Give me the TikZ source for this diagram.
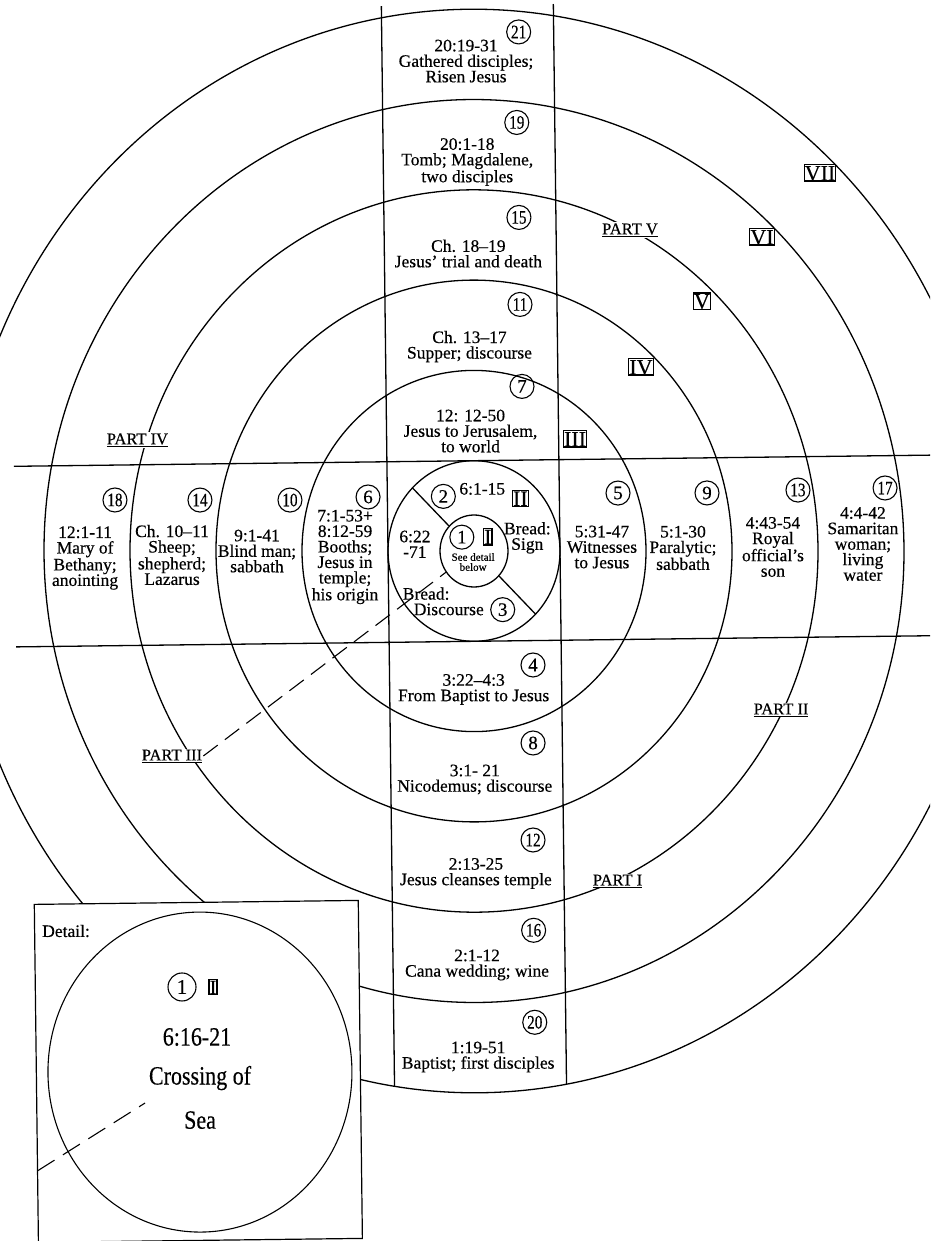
\documentclass[tikz,border=0pt]{standalone}
\usepackage{fontspec}
\setmainfont{Liberation Serif}[FakeBold=0.4]
\usetikzlibrary{shapes.geometric}
\newcommand{\tw}[1]{\scalebox{0.8}[1]{#1}}
\begin{document}
\begin{tikzpicture}[x=1pt,y=-1pt,
  ring/.style={line width=1.3pt},
  num/.style={circle,draw,line width=1.1pt,minimum size=24pt,inner sep=0pt,font=\fontsize{19}{19}\selectfont},
  rom/.style={draw,line width=1.2pt,inner sep=0.6pt,font=\fontsize{22}{22}\selectfont,text height=15pt,text depth=0pt},
  txt/.style={align=center,inner sep=0pt,font=\fontsize{17.5}{15.5}\selectfont},
  partlbl/.style={fill=white,inner sep=1pt,font=\fontsize{16.5}{16.5}\selectfont},
  tinytxt/.style={align=center,inner sep=0pt,font=\fontsize{11}{10}\selectfont},
  bigtxt/.style={inner sep=0pt,font=\fontsize{22}{22}\selectfont},
  dashline/.style={dash pattern=on 18pt off 9pt,line width=1.1pt},
]
\useasboundingbox (0,0) rectangle (930,1241);
\fill[white] (0,0) rectangle (930,1241);
\clip (0,0) rectangle (930,1241);
\begin{scope}[shift={(474,551)},rotate=0.7]
  % rings
  \foreach \k in {1,...,6}
    \draw[ring] (0,0) ellipse [x radius={86*\k}, y radius={90.3*\k}];
  \node[ellipse,draw,ring,minimum width=68pt,minimum height=72pt,inner sep=0pt] (core) at (0,0) {};
  % cross lines
  \draw[ring] (-86,-546) -- (-86,534.4);
  \draw[ring] (86,-546) -- (86,534.4);
  \draw[ring] (-459,-90.3) -- (480,-90.3);
  \draw[ring] (-459,90.3) -- (480,90.3);
  % diagonals in ring B
  \coordinate (bnw) at (-60.8,-63.9);
  \coordinate (bse) at (60.8,63.9);
  \draw[ring] (core.135) -- (bnw);
  \draw[ring] (core.-45) -- (bse);

  % column top
  \node[num] (n21) at (51,-518.5) {\tw{21}};
  \node[txt] (t21) at (-2,-490) {20:19-31\\Gathered disciples;\\Risen Jesus};
  \node[num] (n19) at (48,-428) {\tw{19}};
  \node[txt] (t19) at (-2,-389) {20:1-18\\Tomb; Magdalene,\\two disciples};
  \node[num] (n15) at (49,-333) {\tw{15}};
  \node[txt] (t15) at (-2,-297.5) {Ch. 18–19\\Jesus’ trial and death};
  \node[num] (n11) at (49,-246) {\tw{11}};
  \node[txt] (t11) at (-2,-204.5) {Ch. 13–17\\Supper; discourse};
  \node[num] (n7) at (50,-164) {7};
  \node[txt] (t7) at (-2,-120) {12: 12-50\\Jesus to Jerusalem,\\to world};
  % column bottom
  \node[num] (n4) at (57.6,114.7) {4};
  \node[txt] (t4) at (-2,138.5) {3:22–4:3\\From Baptist to Jesus};
  \node[num] (n8) at (56.7,192.7) {8};
  \node[txt] (t8) at (-2,228.5) {3:1- 21\\Nicodemus; discourse};
  \node[num] (n12) at (55.5,289.7) {\tw{12}};
  \node[txt] (t12) at (-2,322.5) {2:13-25\\Jesus cleanses temple};
  \node[num] (n16) at (55,380) {\tw{16}};
  \node[txt] (t16) at (-2,414) {2:1-12\\Cana wedding; wine};
  \node[num] (n20) at (55,472) {\tw{20}};
  \node[txt] (t20) at (-2,506) {1:19-51\\Baptist; first disciples};
  % left band
  \node[num] (n18) at (-358.4,-55.4) {\tw{18}};
  \node[txt] (t18) at (-389,2.3) {12:1-11\\Mary of\\Bethany;\\anointing};
  \node[num] (n14) at (-273.4,-54.3) {\tw{14}};
  \node[txt] (t14) at (-302,0.3) {Ch. 10–11\\Sheep;\\shepherd;\\Lazarus};
  \node[num] (n10) at (-183.4,-53.2) {\tw{10}};
  \node[txt] (t10) at (-217,-2.6) {9:1-41\\Blind man;\\sabbath};
  \node[num] (n6) at (-105.3,-55.3) {6};
  \node[txt] (t6) at (-129,4.4) {7:1-53+\\8:12-59\\Booths;\\Jesus in\\temple;\\his origin};
  % right band
  \node[num] (n5) at (144.7,-56.2) {5};
  \node[txt] (t5) at (128,-2.4) {5:31-47\\Witnesses\\to Jesus};
  \node[num] (n9) at (233.7,-55.2) {9};
  \node[txt] (t9) at (209,-0.5) {5:1-30\\Paralytic;\\sabbath};
  \node[num] (n13) at (324.7,-57) {\tw{13}};
  \node[txt] (t13) at (299,-0.4) {4:43-54\\Royal\\official’s\\son};
  \node[num] (n17) at (411.8,-58) {\tw{17}};
  \node[txt] (t17) at (389,-2.3) {4:4-42\\Samaritan\\woman;\\living\\water};
  % centre
  \node[num] (n2) at (-30,-55) {2};
  \node[txt] (s615) at (9,-62) {6:1-15};
  \node[num] (n1) at (-12,-14) {1};
  \node[tinytxt] (see) at (-1,11) {See detail\\below};
  \node[txt] (s622) at (-59,-7.5) {6:22\\-71};
  \node[txt] (bsign) at (53.5,-12.5) {Bread:\\Sign};
  \node[txt,align=left,anchor=west] (bdisc) at (-72,49.5) {Bread:\\\hspace*{11pt}Discourse};
  \node[num] (n3) at (28,59) {3};
  % roman numerals
  \node[rom] (r1) at (14,-14) {I};
  \node[rom] (r2) at (47,-52) {II};
  \node[rom] (r3) at (102.4,-110.8) {III};
  \node[rom] (r4) at (169.2,-182) {IV};
  \node[rom] (r5) at (231,-247.2) {V};
  \node[rom] (r6) at (291.8,-310.5) {VI};
  \node[rom] (r7) at (350.6,-373.8) {VII};
  % part labels
  \node[partlbl] (p1) at (139.5,331.75) {\underline{PART I}};
  \node[partlbl] (p2) at (305.1,162.7) {\underline{PART II}};
  \node[partlbl] (p3) at (-304.5,201.3) {\underline{PART III}};
  \node[partlbl] (p4) at (-335.2,-115.1) {\underline{PART IV}};
  \node[partlbl] (p5) at (159.9,-319.1) {\underline{PART V}};
  \draw[dashline] (p3.east) -- (core);

  % detail box
  \filldraw[fill=white,line width=1.2pt] (-444,348) rectangle (-120,686);
  \draw[line width=1.1pt] (-280.4,517.7) ellipse [x radius=152, y radius=160];
  \node[txt,anchor=west] (dlab) at (-436.6,374.7) {Detail:};
  \node[num,minimum size=28pt,font=\fontsize{21}{21}\selectfont] (dn1) at (-297.3,432.4) {1};
  \node[rom,font=\fontsize{20}{20}\selectfont,text height=14pt] (dr1) at (-266.3,432.8) {I};
  \node[bigtxt] (dref) at (-282.9,482.6) {\scalebox{1}[1.2]{6:16-21}};
  \node[bigtxt] (dcross) at (-280.4,523.7) {\scalebox{1}[1.2]{Crossing of}};
  \node[bigtxt] (dsea) at (-280.9,565.7) {\scalebox{1}[1.2]{Sea}};
  \coordinate (dstart) at (-444,614.5);
  \coordinate (dend) at (-335.7,548);
  \draw[dash pattern=on 20pt off 10pt,line width=1.1pt] (dstart) -- (dend);
\end{scope}
\end{tikzpicture}
\end{document}
